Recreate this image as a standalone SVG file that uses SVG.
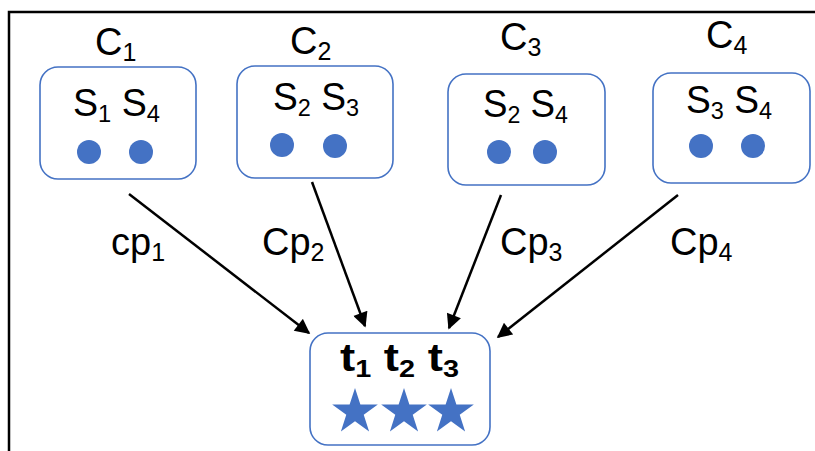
<svg xmlns="http://www.w3.org/2000/svg" width="815" height="451" viewBox="0 0 815 451">
<style>
.box{fill:#fff;stroke:#4472C4;stroke-width:1.6}
.dot{fill:#4472C4}
.t{font-family:"Liberation Sans",Arial,sans-serif;fill:#000}
.lbl{font-size:38px}
.in{font-size:38px}
.cp{font-size:38px}
.sub{font-size:25px}
.sub2{font-size:24px}
.edge{stroke:#000;stroke-width:2.5;fill:none;marker-end:url(#ah)}
.frame{stroke:#000;stroke-width:2.5;fill:none}
</style>
<defs>
<marker id="ah" viewBox="0 0 10 10" refX="9" refY="5" markerWidth="6.5" markerHeight="6" markerUnits="strokeWidth" orient="auto">
<path d="M0,0 L10,5 L0,10 Z" fill="#000"/>
</marker>
<path id="star" d="M0,-24 L5.39,-7.42 L22.83,-7.42 L8.72,2.83 L14.11,19.42 L0,9.17 L-14.11,19.42 L-8.72,2.83 L-22.83,-7.42 L-5.39,-7.42 Z" fill="#4472C4"/>
</defs>
<rect width="815" height="451" fill="#fff"/>
<path class="frame" d="M9,451 V12 H815"/>
<g id="connectors">
<line class="edge" x1="129" y1="194" x2="309" y2="333"/>
<line class="edge" x1="312" y1="182" x2="365" y2="326"/>
<line class="edge" x1="501" y1="195" x2="449" y2="328"/>
<line class="edge" x1="678" y1="195" x2="498" y2="337"/>
<text class="t cp" x="111" y="255">cp<tspan class="sub" dy="6">1</tspan></text>
<text class="t cp" x="262" y="255">Cp<tspan class="sub" dy="6">2</tspan></text>
<text class="t cp" x="500" y="255">Cp<tspan class="sub" dy="6">3</tspan></text>
<text class="t cp" x="670" y="255">Cp<tspan class="sub" dy="6">4</tspan></text>
</g>
<g id="C1">
<text class="t lbl" x="95" y="55">C<tspan class="sub" dy="6">1</tspan></text>
<rect class="box" x="40" y="67" width="156" height="112" rx="18"/>
<text class="t in" x="73" y="116" textLength="87" lengthAdjust="spacingAndGlyphs">S<tspan class="sub2" dy="6">1</tspan><tspan dy="-6"> S</tspan><tspan class="sub2" dy="6">4</tspan></text>
<circle class="dot" cx="89" cy="152" r="12"/>
<circle class="dot" cx="141" cy="152" r="12"/>
</g>
<g id="C2">
<text class="t lbl" x="290" y="54">C<tspan class="sub" dy="6">2</tspan></text>
<rect class="box" x="237" y="66" width="156" height="112" rx="18"/>
<text class="t in" x="273" y="110" textLength="86" lengthAdjust="spacingAndGlyphs">S<tspan class="sub2" dy="6">2</tspan><tspan dy="-6"> S</tspan><tspan class="sub2" dy="6">3</tspan></text>
<circle class="dot" cx="282" cy="145" r="12"/>
<circle class="dot" cx="335" cy="146" r="12"/>
</g>
<g id="C3">
<text class="t lbl" x="500" y="50">C<tspan class="sub" dy="6">3</tspan></text>
<rect class="box" x="448" y="74" width="157" height="111" rx="18"/>
<text class="t in" x="483" y="117" textLength="85" lengthAdjust="spacingAndGlyphs">S<tspan class="sub2" dy="6">2</tspan><tspan dy="-6"> S</tspan><tspan class="sub2" dy="6">4</tspan></text>
<circle class="dot" cx="499" cy="152" r="12"/>
<circle class="dot" cx="545" cy="152" r="12"/>
</g>
<g id="C4">
<text class="t lbl" x="706" y="48">C<tspan class="sub" dy="6">4</tspan></text>
<rect class="box" x="653" y="73" width="157" height="110" rx="18"/>
<text class="t in" x="686" y="113" textLength="86" lengthAdjust="spacingAndGlyphs">S<tspan class="sub2" dy="6">3</tspan><tspan dy="-6"> S</tspan><tspan class="sub2" dy="6">4</tspan></text>
<circle class="dot" cx="701" cy="146" r="12"/>
<circle class="dot" cx="753" cy="146" r="12"/>
</g>
<g id="T">
<rect class="box" x="310" y="333" width="180" height="112" rx="18"/>
<text class="t in" x="340" y="371" font-weight="bold" textLength="119" lengthAdjust="spacingAndGlyphs">t<tspan class="sub2" dy="6">1</tspan><tspan dy="-6"> t</tspan><tspan class="sub2" dy="6">2</tspan><tspan dy="-6"> t</tspan><tspan class="sub2" dy="6">3</tspan></text>
<use href="#star" x="355" y="412"/>
<use href="#star" x="404" y="412"/>
<use href="#star" x="451" y="412"/>
</g>
</svg>
